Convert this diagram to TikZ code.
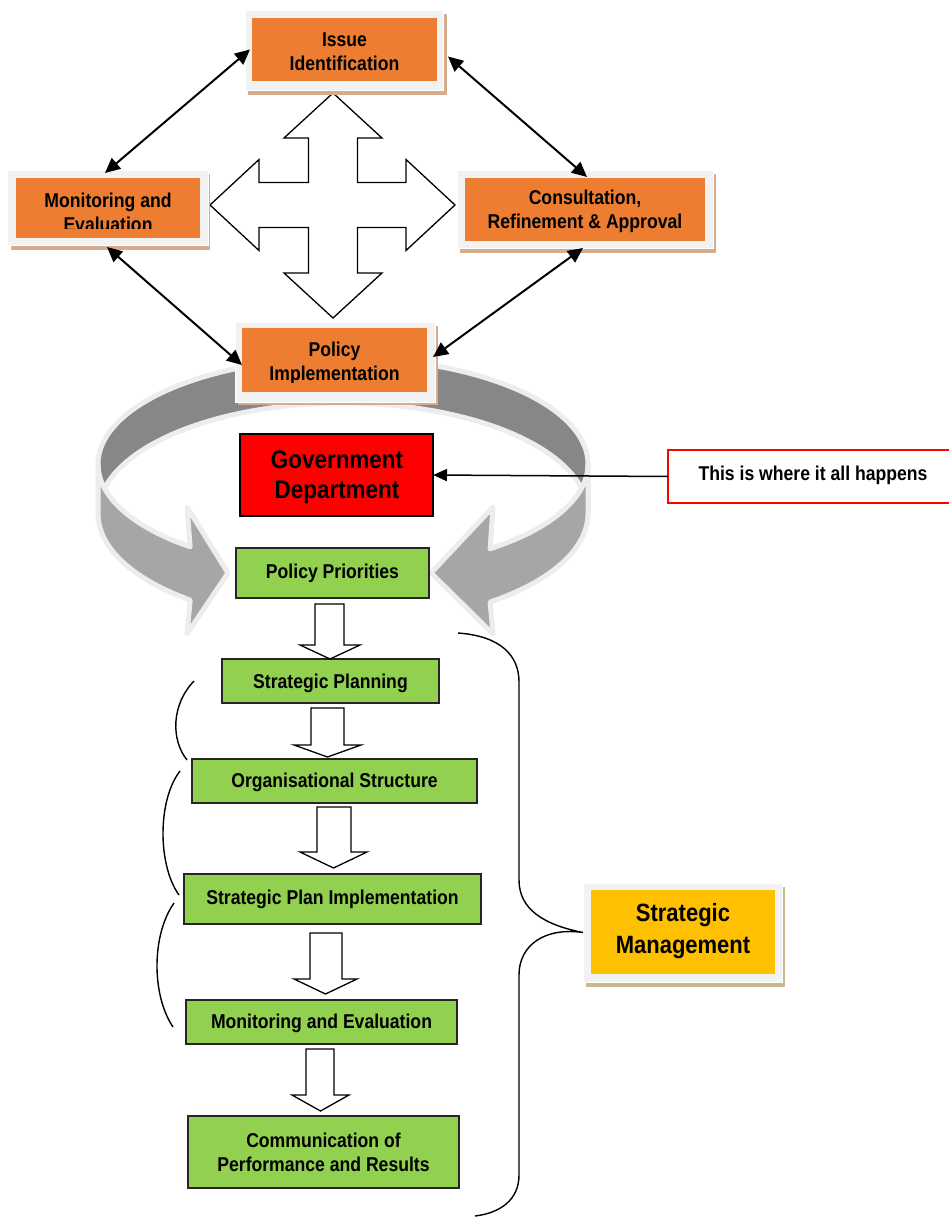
\documentclass[tikz,border=0pt]{standalone}
\usepackage{fontspec}
\setmainfont{Liberation Sans}[FakeStretch=0.88]
\usetikzlibrary{arrows.meta,calc}
\definecolor{orng}{HTML}{ED7D31}
\definecolor{frm}{HTML}{F2F2F2}
\definecolor{oshad}{HTML}{D6AB8E}
\definecolor{yshad}{HTML}{C9B88C}
\definecolor{grn}{HTML}{92D050}
\definecolor{yel}{HTML}{FFC000}
\definecolor{ringdark}{HTML}{878787}
\definecolor{ringlight}{HTML}{A6A6A6}
\definecolor{ringedge}{HTML}{EDEDED}
\newcommand\rbox[6]{\node[rect,#6,minimum width={(#4)-(#2)},minimum height={(#5)-(#3)}] (#1) at (#2,#3) {};}
\newcommand\bdown[7]{\draw[blockarr] (#1,#3) -- (#2,#3) -- (#2,#4) -- (#6,#4) -- ({(#5+#6)/2},#7) -- (#5,#4) -- (#1,#4) -- cycle;}
\begin{document}
\begin{tikzpicture}[x=1pt,y=-1pt,
  font=\fontsize{20}{24}\selectfont\bfseries,
  rect/.style={inner sep=0pt,outer sep=0pt,anchor=north west},
  framebox/.style={fill=frm,draw=white,line width=0.6pt},
  oshadow/.style={fill=oshad},
  yshadow/.style={fill=yshad},
  obox/.style={fill=orng},
  gbox/.style={fill=grn,draw=black!85,line width=1.3pt},
  txt/.style={align=center,inner sep=0pt},
  dbl/.style={{Triangle[length=15pt,width=14pt]}-{Triangle[length=15pt,width=14pt]},line width=2pt},
  blockarr/.style={fill=white,draw=black,line width=1.3pt,line join=miter},
  brace/.style={draw=black,line width=1.4pt},
  ringback/.style={fill=ringdark,draw=ringedge,line width=5pt,line join=round},
  ringfront/.style={fill=ringlight,draw=ringedge,line width=5pt,line join=round}]
\useasboundingbox (0,0) rectangle (948,1217);

% ---- circular ribbon arrows
\path[ringback] plot[domain=270:180,samples=40] ({343+245*cos(\x)},{464+106*sin(\x)})
  -- plot[domain=180:270,samples=40] ({343+245*cos(\x)},{513.6+110.6*sin(\x)}) -- cycle;
\path[ringback] plot[domain=270:360,samples=40] ({343+245*cos(\x)},{464+106*sin(\x)})
  -- plot[domain=360:270,samples=40] ({343+245*cos(\x)},{513.6+110.6*sin(\x)}) -- cycle;
\path[ringfront] plot[domain=180:128.6,samples=30] ({343+245*cos(\x)},{464+106*sin(\x)})
  -- (187,507) -- (228,573) -- (187,634)
  -- plot[domain=128.6:180,samples=30] ({343+245*cos(\x)},{513.6+110.6*sin(\x)}) -- cycle;
\path[ringfront] plot[domain=0:53.1,samples=30] ({343+245*cos(\x)},{464+106*sin(\x)})
  -- (493,507) -- (431,573) -- (493,634)
  -- plot[domain=53.1:0,samples=30] ({343+245*cos(\x)},{513.6+110.6*sin(\x)}) -- cycle;

% ---- four-way block arrow
\draw[blockarr] (333,93) -- (382,138) -- (357.5,138) -- (357.5,182.5) -- (406,182.5) -- (406,159.5)
  -- (455,205) -- (406,250.5) -- (406,227.5) -- (357.5,227.5) -- (357.5,273) -- (382,273)
  -- (333,318) -- (284,273) -- (308.5,273) -- (308.5,227.5) -- (259,227.5) -- (259,250.5)
  -- (210,205) -- (259,159.5) -- (259,182.5) -- (308.5,182.5) -- (308.5,138) -- (284,138) -- cycle;

% ---- orange boxes
\rbox{issS}{248}{14}{447}{95}{oshadow}
\rbox{issF}{245}{10}{443}{90}{framebox}
\rbox{iss}{252}{18}{437}{81}{obox}
\node[txt] at (344.5,52) {Issue\\Identification};

\rbox{monS}{11}{174}{210}{250}{oshadow}
\rbox{monF}{7}{170}{208}{245}{framebox}
\rbox{mon}{16}{178}{200}{238}{obox}
\begin{scope}
\clip (16,178) rectangle (200,228.5);
\node[txt] at (108,212) {Monitoring and\\Evaluation};
\end{scope}

\rbox{consS}{460}{174}{716}{253}{oshadow}
\rbox{consF}{457}{170}{713}{248}{framebox}
\rbox{cons}{465}{178}{705}{241}{obox}
\begin{scope}
\clip (465,178) rectangle (705,232);
\node[txt] at (585,211.5) {Consultation,\\Refinement \& Approval};
\end{scope}

\rbox{polS}{238}{326}{438}{405}{oshadow}
\rbox{polF}{235}{322}{435}{402}{framebox}
\rbox{pol}{242}{328}{427}{392}{obox}
\begin{scope}
\clip (242,328) rectangle (427,382.5);
\node[txt] at (334.5,363) {Policy\\Implementation};
\end{scope}

% ---- double arrows
\draw[dbl] ($(iss.west)+(-2,0)$) -- ($(mon.north)+(-3,-5)$);
\draw[dbl] ($(iss.east)+(11,7)$) -- ($(cons.north)+(2,-1)$);
\draw[dbl] ($(mon.south)+(-1,9)$) -- ($(pol.west)+(0,5)$);
\draw[dbl] ($(cons.south)+(-2,7)$) -- ($(pol.east)+(6,-3)$);

% ---- government department and note
\rbox{gov}{240}{434}{433}{516}{fill=red,draw=black,line width=1.5pt}
\node[txt,font=\fontsize{25.5}{30}\selectfont\bfseries] at (337,477) {Government\\Department};
\rbox{note}{668}{450}{952}{503}{fill=white,draw=red,line width=1.5pt}
\node[txt] at (813,475) {This is where it all happens};
\draw[-{Triangle[length=14pt,width=12pt]},line width=1.5pt] (note.west) -- (gov.east);

% ---- green flow
\rbox{pp}{236}{548}{429}{598}{gbox}
\node[txt] at (332.5,573) {Policy Priorities};
\rbox{sp}{222}{659}{439}{703}{gbox}
\node[txt] at (330.5,683) {Strategic Planning};
\rbox{os}{192}{759}{477}{803}{gbox}
\node[txt] at (334.5,782) {Organisational Structure};
\rbox{spi}{184}{874}{481}{924}{gbox}
\node[txt] at (332.5,899) {Strategic Plan Implementation};
\rbox{me}{186}{1000}{457}{1044}{gbox}
\node[txt] at (321.5,1023) {Monitoring and Evaluation};
\rbox{com}{188}{1116}{459}{1188}{gbox}
\node[txt] at (323.5,1152) {Communication of\\Performance and Results};

\bdown{315}{344}{604}{645}{300}{360}{659}
\bdown{311}{344}{708}{745}{294}{361}{757}
\bdown{317}{351}{807}{852}{300}{367}{868}
\bdown{310}{342}{933}{979}{294}{357}{994}
\bdown{306}{334}{1049}{1095}{292}{349}{1111}

% ---- small left arcs
\draw[brace] (194,681) .. controls (171,705) and (171,740) .. (187,760);
\draw[brace] (180,771) .. controls (157.5,800) and (157.5,865) .. (179,895);
\draw[brace] (174,903) .. controls (151.5,935) and (151.5,995) .. (173,1027);

% ---- strategic management
\rbox{smS}{586}{887}{785}{987}{yshadow}
\rbox{smF}{583}{883}{782}{982}{framebox}
\rbox{sm}{591}{890}{775}{974}{fill=yel}
\node[txt,font=\fontsize{25}{32}\selectfont\bfseries] at (683,931) {Strategic\\Management};

% ---- big brace
\draw[brace] (458,633) .. controls (500,636) and (519,655) .. (519,682) -- (519,880)
  .. controls (519,910) and (545,925) .. (smF.west)
  .. controls (545,927) and (519,945) .. (519,975) -- (519,1175)
  .. controls (519,1200) and (500,1213) .. (475,1216);
\end{tikzpicture}
\end{document}
